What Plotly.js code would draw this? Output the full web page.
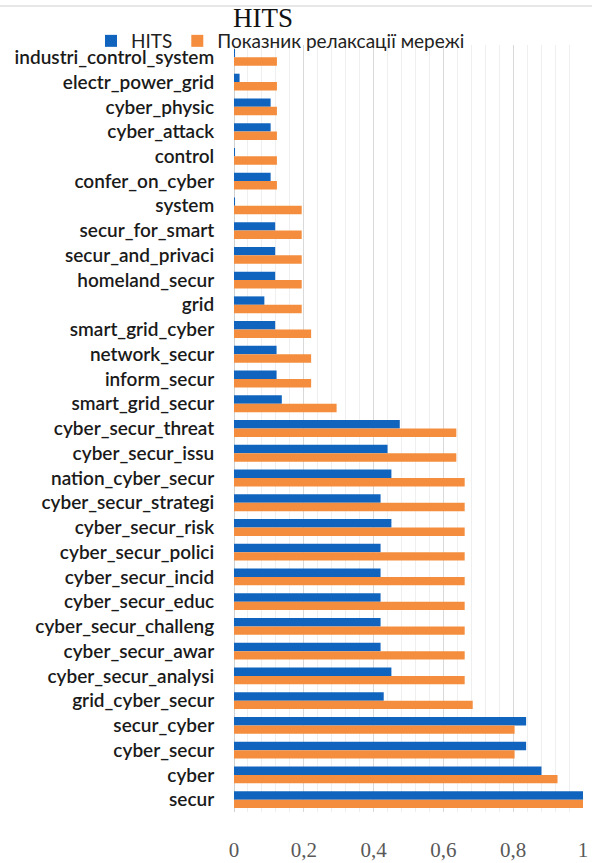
<!DOCTYPE html>
<html>
<head>
<meta charset="utf-8">
<script src="https://cdn.plot.ly/plotly-3.0.1.min.js"></script>
<style>html,body{margin:0;padding:0;background:#fff;}#chart{width:592px;height:863px;}</style>
</head>
<body>
<div id="chart"></div>
<script>
const categories = [
  "industri_control_system","electr_power_grid","cyber_physic","cyber_attack","control",
  "confer_on_cyber","system","secur_for_smart","secur_and_privaci","homeland_secur",
  "grid","smart_grid_cyber","network_secur","inform_secur","smart_grid_secur",
  "cyber_secur_threat","cyber_secur_issu","nation_cyber_secur","cyber_secur_strategi","cyber_secur_risk",
  "cyber_secur_polici","cyber_secur_incid","cyber_secur_educ","cyber_secur_challeng","cyber_secur_awar",
  "cyber_secur_analysi","grid_cyber_secur","secur_cyber","cyber_secur","cyber","secur"
];
const hitsValues = [
  0.003,0.016,0.105,0.105,0.003,
  0.105,0.003,0.118,0.118,0.118,
  0.087,0.118,0.122,0.122,0.137,
  0.475,0.44,0.451,0.42,0.451,
  0.42,0.42,0.42,0.42,0.42,
  0.451,0.429,0.837,0.837,0.881,1.0
];
const relaxValues = [
  0.123,0.123,0.123,0.123,0.123,
  0.123,0.194,0.194,0.194,0.194,
  0.194,0.221,0.221,0.221,0.294,
  0.637,0.637,0.661,0.661,0.661,
  0.661,0.661,0.661,0.661,0.661,
  0.661,0.684,0.804,0.804,0.927,1.0
];
const seriesNames = ["HITS","Показник релаксації мережі"];
const chartTitle = "HITS";

const W = 592, H = 863;
const mL = 234, mR = 9, mT = 45, mB = 51;
const pw = W - mL - mR, ph = H - mT - mB;

const traces = [
  {type:"bar", orientation:"h", name:seriesNames[0], y:categories, x:hitsValues,
   marker:{color:"#1164be"}, hoverinfo:"x+y"},
  {type:"bar", orientation:"h", name:seriesNames[1], y:categories, x:relaxValues,
   marker:{color:"#f48e3e"}, hoverinfo:"x+y"}
];

const layout = {
  width: W, height: H,
  margin: {l:mL, r:mR, t:mT, b:mB, pad:0, autoexpand:false},
  paper_bgcolor:"#ffffff", plot_bgcolor:"#ffffff",
  separators: ", ",
  barmode:"group", bargap:0.32, bargroupgap:0,
  title: {text: chartTitle, font:{family:"Liberation Serif, serif", size:27, color:"#111"},
          x: 263/W, xanchor:"center", xref:"container", y: 1-18/H, yanchor:"middle", yref:"container"},
  showlegend: true,
  legend: {orientation:"h", x: (91-mL)/pw, xanchor:"left", xref:"paper", y: 1+(mT-41)/ph, yanchor:"middle", yref:"paper",
           font:{family:"Lato, Liberation Sans, sans-serif", size:19, color:"#222"},
           bgcolor:"rgba(0,0,0,0)", itemwidth:30, tracegroupgap:0, traceorder:"normal"},
  xaxis: {range:[0,1], dtick:0.2, tick0:0, showgrid:true, gridcolor:"#d9d9d9", gridwidth:1,
          minor:{dtick:0.04, showgrid:true, gridcolor:"#efefef", gridwidth:1},
          zeroline:true, zerolinecolor:"#d0d0d0", zerolinewidth:1, showline:false,
          ticks:"", ticklabelstandoff:23,
          tickfont:{family:"Liberation Serif, serif", size:21, color:"#595959"}, fixedrange:true},
  yaxis: {type:"category", categoryorder:"array", categoryarray:categories, autorange:"reversed",
          showgrid:false, zeroline:false, showline:false,
          ticks:"outside", ticklen:15, tickcolor:"rgba(0,0,0,0)",
          tickfont:{family:"Lato, Liberation Sans, sans-serif", size:19, color:"#1a1a1a", weight:600}, fixedrange:true},
  shapes: [
    {type:"line", xref:"paper", yref:"paper", x0:-mL/pw, x1:1+mR/pw,
     y0:1+(mT-6)/ph, y1:1+(mT-6)/ph, line:{color:"#cfcfcf", width:1}}
  ]
};

Plotly.newPlot("chart", traces, layout, {displayModeBar:false, staticPlot:true});
</script>
</body>
</html>
